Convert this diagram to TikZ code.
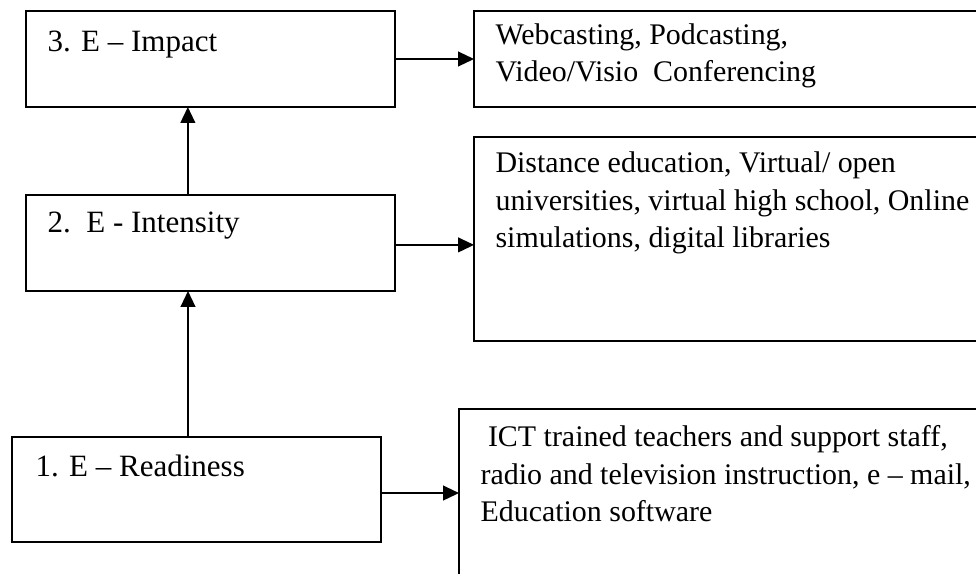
\documentclass[tikz,border=0pt]{standalone}
\usepackage{fontspec}
\setmainfont{Liberation Serif}
\usetikzlibrary{arrows.meta, positioning, calc}

\begin{document}
\begin{tikzpicture}[
        x=0.3676pt, y=-0.3676pt,
        stage_box/.style={
            rectangle,
            draw=black,
            line width=0.55pt,
            inner sep=0pt,
            outer sep=0pt,
            anchor=north west,
            minimum width=135.6pt,
            minimum height=35.3pt
        },
        tool_box/.style={
            stage_box,
            minimum width=189.7pt
        },
        box_text/.style={
            anchor=base west,
            inner sep=0pt,
            align=left,
            font=\fontsize{11}{13.8}\selectfont
        },
        arrow/.style={
            -{Triangle[length=5.8pt, width=5.4pt]},
            draw=black,
            line width=0.55pt
        }
    ]

    \clip (0,0) rectangle (976,574);

    % Stages (left column)
    \node[stage_box] (impact) at (26,11) {};
    \node[stage_box] (intensity) at (26,195) {};
    \node[stage_box, minimum height=38.6pt] (readiness) at (12,437) {};

    % Technologies (right column, running off the page)
    \node[tool_box] (webcast) at (474,11) {};
    \node[tool_box, minimum height=75pt] (distance) at (474,137) {};
    \node[tool_box, minimum width=195.2pt, minimum height=73.5pt] (ict) at (459,409) {};

    % Texts of the boxes (anchored at the baseline of their last line)
    \node[box_text, font=\fontsize{11.4}{13.8}\selectfont] (impact_txt) at (47,52) {3. E -- Impact};
    \node[box_text, font=\fontsize{11.4}{13.8}\selectfont] (intensity_txt) at (47,233) {2.~~E - Intensity};
    \node[box_text, font=\fontsize{11.4}{13.8}\selectfont] (readiness_txt) at (35,477) {1. E -- Readiness};
    \node[box_text] (webcast_txt) at (495,82) {Webcasting, Podcasting,\\Video/Visio~ Conferencing};
    \node[box_text] (distance_txt) at (495,248) {Distance education, Virtual/ open\\universities, virtual high school, Online\\simulations, digital libraries};
    \node[box_text] (ict_txt) at (480,522) {\ ICT trained teachers and support staff,\\radio and television instruction, e -- mail,\\Education software};

    % Upward arrows between stages
    \coordinate (i_top) at ([xshift=-8.3pt]intensity.north);
    \coordinate (r_top) at ([xshift=-3.1pt]readiness.north);
    \draw[arrow] (i_top) -- (i_top |- impact.south);
    \draw[arrow] (r_top) -- (r_top |- intensity.south);

    % Arrows to the technologies
    \draw[arrow] (impact.east) -- (webcast.west);
    \draw[arrow] ([yshift=-0.7pt]intensity.east) -- ([yshift=-0.7pt]intensity.east -| distance.west);
    \draw[arrow] ([yshift=-1.3pt]readiness.east) -- ([yshift=-1.3pt]readiness.east -| ict.west);

\end{tikzpicture}
\end{document}
